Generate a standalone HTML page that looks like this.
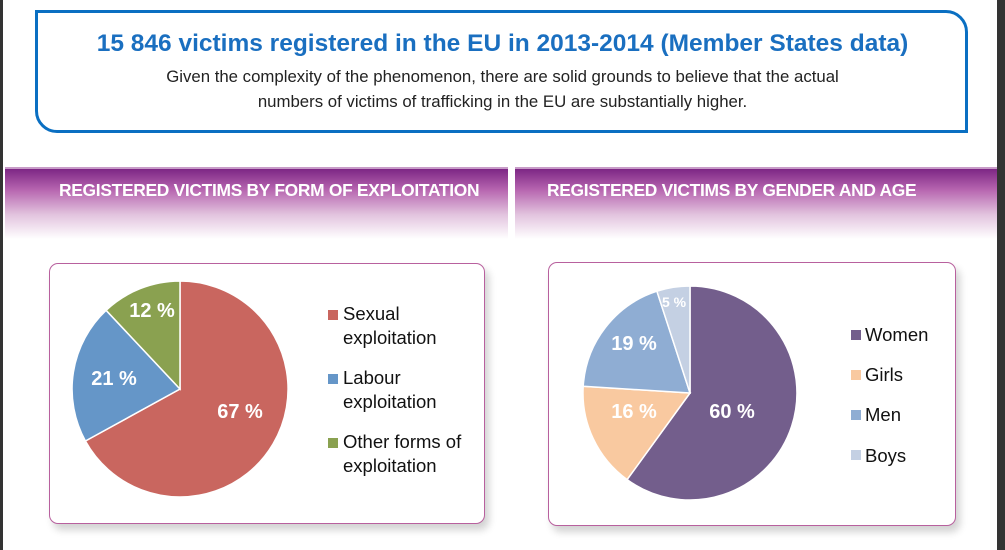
<!DOCTYPE html>
<html><head><meta charset="utf-8"><style>
body{margin:0;width:1005px;height:550px;background:#fff;position:relative;overflow:hidden;font-family:"Liberation Sans",sans-serif}
.abs{position:absolute}
.box{left:35px;top:10px;width:927px;height:117px;border:3px solid #0a6fc2;border-radius:0 22px 0 22px}
.t{left:0;width:1005px;text-align:center}
.hdr{top:167px;height:70px;background:linear-gradient(#7d2785 0%,#b766b0 30%,#e2c3de 65%,#fff 100%);border-top:2px solid #c89cc8}
.hdr span{position:absolute;top:11px;color:#fff;font-weight:bold;font-size:17.4px;letter-spacing:-0.3px;white-space:nowrap}
.card{border:1.5px solid #b8609e;border-radius:9px;background:#fff;box-shadow:4px 6px 8px rgba(0,0,0,.18)}
.lg{font-size:18.5px;color:#111;line-height:24px;white-space:nowrap}
.sq{position:absolute;width:10px;height:10px}
</style></head><body>
<div class="abs" style="left:0;top:0;width:3px;height:550px;background:#333"></div>
<div class="abs" style="left:997px;top:0;width:8px;height:550px;background:#333"></div>
<div class="abs box"></div>
<div class="abs t" style="top:30px;font-size:24.5px;font-weight:bold;color:#1a6fc0;white-space:nowrap">15 846 victims registered in the EU in 2013-2014 (Member States data)</div>
<div class="abs t" style="top:64px;font-size:16.8px;color:#222;line-height:25px">Given the complexity of the phenomenon, there are solid grounds to believe that the actual<br>numbers of victims of trafficking in the EU are substantially higher.</div>
<div class="abs hdr" style="left:5px;width:503px"><span style="left:54px">REGISTERED VICTIMS BY FORM OF EXPLOITATION</span></div>
<div class="abs hdr" style="left:515px;width:482px"><span style="left:32px">REGISTERED VICTIMS BY GENDER AND AGE</span></div>
<div class="abs card" style="left:49px;top:263px;width:434px;height:259px"></div>
<div class="abs card" style="left:548px;top:262px;width:406px;height:262px"></div>
<svg class="abs" style="left:0;top:0" width="1005" height="550">
<g stroke="#fff" stroke-width="1.5">
<path d="M180,389 L180,281 A108,108 0 1,1 85.4,441 Z" fill="#c9665f"/>
<path d="M180,389 L85.4,441 A108,108 0 0,1 106.1,310.3 Z" fill="#6596c8"/>
<path d="M180,389 L106.1,310.3 A108,108 0 0,1 180,281 Z" fill="#8aa150"/>
<path d="M690,393 L690,286 A107,107 0 1,1 627.1,479.6 Z" fill="#735e8c"/>
<path d="M690,393 L627.1,479.6 A107,107 0 0,1 583.2,386.3 Z" fill="#f9c9a0"/>
<path d="M690,393 L583.2,386.3 A107,107 0 0,1 656.9,291.2 Z" fill="#8fadd3"/>
<path d="M690,393 L656.9,291.2 A107,107 0 0,1 690,286 Z" fill="#c4d0e3"/>
</g>
<g fill="#fff" font-weight="bold" font-size="20" text-anchor="middle" font-family="Liberation Sans,sans-serif">
<text x="240" y="418">67 %</text><text x="114" y="385">21 %</text><text x="152" y="317">12 %</text>
<text x="732" y="418">60 %</text><text x="634" y="418">16 %</text><text x="634" y="350">19 %</text><text x="674" y="307" font-size="14">5 %</text>
</g>
</svg>
<div class="sq" style="left:328px;top:310px;background:#c9665f"></div>
<div class="sq" style="left:328px;top:374px;background:#6596c8"></div>
<div class="sq" style="left:328px;top:438px;background:#8aa150"></div>
<div class="abs lg" style="left:343px;top:302px">Sexual<br>exploitation</div>
<div class="abs lg" style="left:343px;top:366px">Labour<br>exploitation</div>
<div class="abs lg" style="left:343px;top:430px">Other forms of<br>exploitation</div>
<div class="sq" style="left:851px;top:330px;background:#735e8c"></div>
<div class="sq" style="left:851px;top:370px;background:#f9c9a0"></div>
<div class="sq" style="left:851px;top:410px;background:#8fadd3"></div>
<div class="sq" style="left:851px;top:450px;background:#c4d0e3"></div>
<div class="abs lg" style="left:865px;top:323px">Women</div>
<div class="abs lg" style="left:865px;top:363px">Girls</div>
<div class="abs lg" style="left:865px;top:403px">Men</div>
<div class="abs lg" style="left:865px;top:444px">Boys</div>
</body></html>
